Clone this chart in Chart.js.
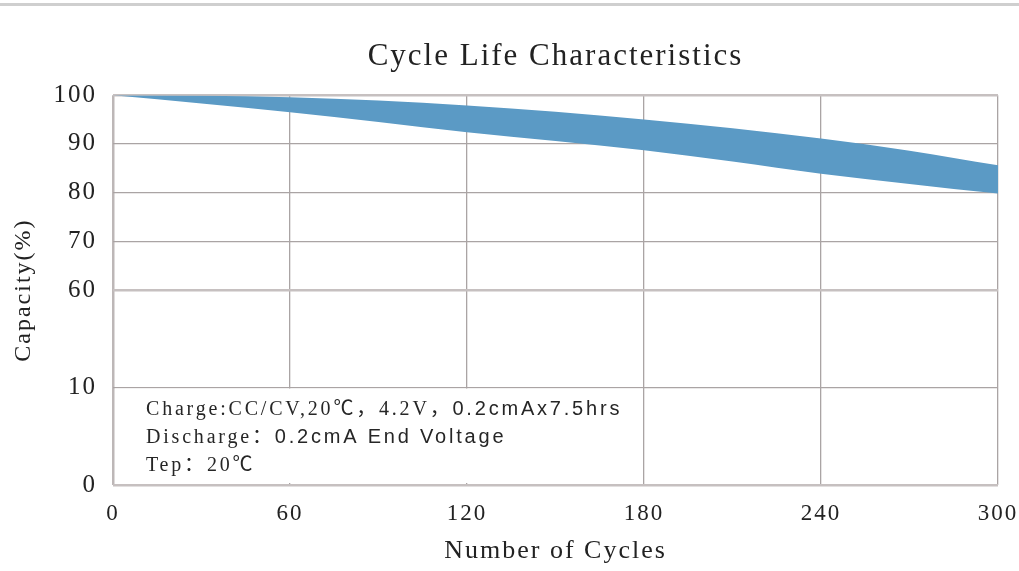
<!DOCTYPE html>
<html>
<head>
<meta charset="utf-8">
<script src="https://cdn.jsdelivr.net/npm/chart.js@4/dist/chart.umd.min.js"></script>
<style>
  html, body { margin: 0; padding: 0; background: #fff; }
  #wrap { width: 1019px; height: 571px; position: relative; }
</style>
</head>
<body>
<div id="wrap"><canvas id="cycleChart" width="1019" height="571"></canvas></div>
<script>
const cycles = [0, 30, 60, 90, 120, 150, 180, 210, 240, 270, 300];
const capacityUpper = [100, 99.9, 99.6, 98.9, 97.9, 96.6, 95.0, 93.2, 91.1, 88.6, 85.6];
const capacityLower = [100, 98.3, 96.5, 94.5, 92.4, 90.6, 88.7, 86.4, 83.9, 81.8, 79.8];
const xTickLabels = [0, 60, 120, 180, 240, 300];
const yTickLabels = [0, 10, 60, 70, 80, 90, 100];
// the capacity axis is broken: each label gets its own slot on the scale
const ySlots = [0, 2, 4, 5, 6, 7, 8];

const noteLines = [
  [["serif", "Charge:CC/CV,20℃，4.2V，"], ["sans", "0.2cmAx7.5hrs"]],
  [["serif", "Discharge："], ["sans", "0.2cmA End Voltage"]],
  [["serif", "Tep：20℃"]],
];

const SERIF = "'Liberation Serif', 'Noto Sans CJK SC', serif";
const SANS = "'Liberation Sans', 'Noto Sans CJK SC', sans-serif";

function toSlot(v) {
  for (let i = 1; i < yTickLabels.length; i++) {
    if (v <= yTickLabels[i]) {
      let a = yTickLabels[i - 1], b = yTickLabels[i];
      return ySlots[i - 1] + ((v - a) / (b - a)) * (ySlots[i] - ySlots[i - 1]);
    }
  }
  return ySlots[ySlots.length - 1];
}

const upperPts = cycles.map((c, i) => ({ x: c, y: toSlot(capacityUpper[i]) }));
const lowerPts = cycles.map((c, i) => ({ x: c, y: toSlot(capacityLower[i]) }));

// the source picture is stretched sideways, wider letters get it closer
function spread(chart) {
  chart.ctx.letterSpacing = "2px";
}

const pagePlugin = {
  id: "page",
  beforeLayout: spread,
  beforeUpdate: spread,
  beforeDraw(chart) {
    spread(chart);
    let c = chart.ctx;
    c.save();
    c.fillStyle = "#fff";
    c.fillRect(0, 0, chart.width, chart.height);
    c.fillStyle = "#cfcfcf";
    c.fillRect(0, 3, chart.width, 3);
    c.restore();
  },
  afterDatasetsDraw(chart) {
    let c = chart.ctx;
    let xs = chart.scales.x, ys = chart.scales.y;
    let left = xs.getPixelForValue(0) + 2;
    let right = xs.getPixelForValue(180) - 1;
    let top = ys.getPixelForValue(2) + 1;
    let bottom = ys.getPixelForValue(0) - 2;
    c.save();
    c.fillStyle = "#fff";
    c.fillRect(left, top, right - left, bottom - top);
    c.fillStyle = "#262626";
    c.textBaseline = "middle";
    c.letterSpacing = "2.8px";
    let y = top + 21;
    noteLines.forEach((line) => {
      let x = left + 31;
      line.forEach(([face, txt]) => {
        c.font = face === "serif" ? "20px " + SERIF : "20px " + SANS;
        c.fillText(txt, x, y);
        x += c.measureText(txt).width;
      });
      y += 28;
    });
    c.restore();
  },
};

new Chart(document.querySelector("#cycleChart"), {
  type: "line",
  data: {
    datasets: [
      {
        label: "Lower",
        data: lowerPts,
        borderWidth: 0,
        pointRadius: 0,
        cubicInterpolationMode: "monotone",
        fill: false,
      },
      {
        label: "Upper",
        data: upperPts,
        borderWidth: 0,
        pointRadius: 0,
        cubicInterpolationMode: "monotone",
        backgroundColor: "#5b9ac5",
        fill: "-1",
      },
    ],
  },
  options: {
    responsive: false,
    animation: false,
    layout: { padding: { left: 0, right: 21, top: 0, bottom: 0 } },
    plugins: {
      legend: { display: false },
      tooltip: { enabled: false },
      title: {
        display: true,
        fullSize: false,
        text: "Cycle Life Characteristics",
        color: "#222",
        font: { family: SERIF, size: 31, weight: "normal", lineHeight: 1.2 },
        padding: { top: 38, bottom: 20 },
      },
    },
    scales: {
      x: {
        type: "linear",
        min: 0,
        max: 300,
        afterBuildTicks: (scale) => {
          scale.ticks = xTickLabels.map((v) => ({ value: v }));
        },
        afterFit: (scale) => {
          scale.height = 86;
          scale.paddingLeft = 0;
          scale.paddingRight = 0;
        },
        grid: {
          drawTicks: false,
          color: (ctx) => (ctx.tick && ctx.tick.value === 0 ? "#bdb7b7" : "#aaa4a4"),
          lineWidth: (ctx) => (ctx.tick && ctx.tick.value === 0 ? 2.5 : 1.3),
        },
        border: { display: false },
        ticks: {
          color: "#222",
          padding: 15,
          font: { family: SERIF, size: 23 },
        },
        title: {
          display: true,
          text: "Number of Cycles",
          color: "#222",
          font: { family: SERIF, size: 26, lineHeight: 1.2 },
          padding: { top: 0, bottom: 4 },
        },
      },
      y: {
        type: "linear",
        min: 0,
        max: 8,
        afterBuildTicks: (scale) => {
          scale.ticks = ySlots.map((v) => ({ value: v }));
        },
        afterFit: (scale) => {
          scale.width = 113;
        },
        grid: {
          drawTicks: false,
          color: (ctx) => ([0, 4, 8].includes(ctx.tick && ctx.tick.value) ? "#c6c0c0" : "#aaa4a4"),
          lineWidth: (ctx) => ([0, 4, 8].includes(ctx.tick && ctx.tick.value) ? 2.5 : 1.3),
        },
        border: { display: false },
        ticks: {
          color: "#222",
          padding: 16,
          font: { family: SERIF, size: 25 },
          callback: (value) => {
            let i = ySlots.indexOf(value);
            return i >= 0 ? String(yTickLabels[i]) : "";
          },
        },
        title: {
          display: true,
          text: "Capacity(%)",
          color: "#222",
          font: { family: SERIF, size: 24, lineHeight: 1.2 },
          padding: { top: 9, bottom: 0 },
        },
      },
    },
  },
  plugins: [pagePlugin],
});
</script>
</body>
</html>
